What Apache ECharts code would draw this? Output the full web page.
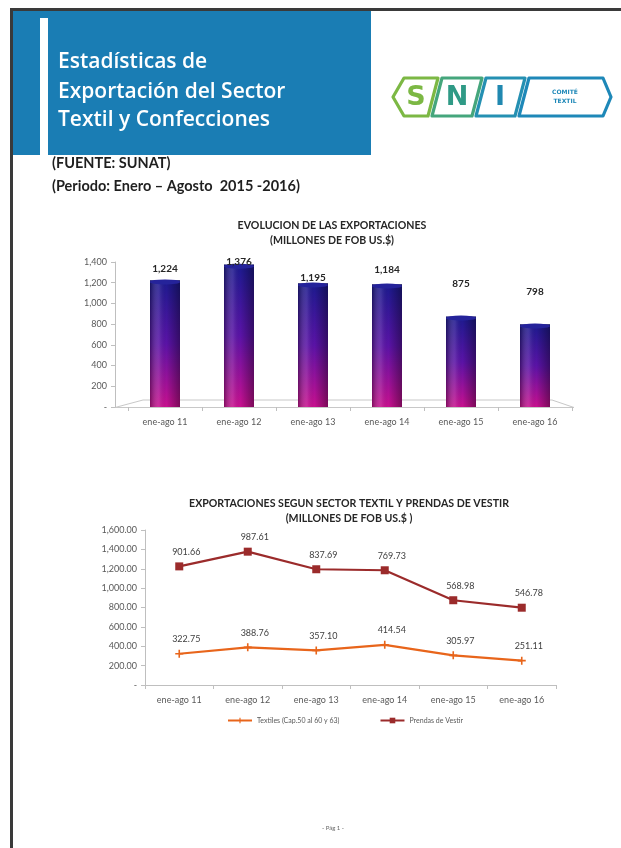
<!DOCTYPE html>
<html>
<head>
<meta charset="utf-8">
<title>Estadísticas de Exportación del Sector Textil y Confecciones</title>
<script src="https://cdn.jsdelivr.net/npm/echarts@6.0.0/dist/echarts.min.js"></script>
<style>
  html, body { margin: 0; padding: 0; background: #ffffff; }
  #page { width: 621px; height: 848px; }
</style>
</head>
<body>
<div id="page"></div>
<script>
// Categories shared by both charts
const categories = ['ene-ago 11', 'ene-ago 12', 'ene-ago 13', 'ene-ago 14', 'ene-ago 15', 'ene-ago 16'];

// Total exports (millones de FOB US$)
const totalExports = [1224, 1376, 1195, 1184, 875, 798];

// Exports by sector (millones de FOB US$)
const textiles = [322.75, 388.76, 357.10, 414.54, 305.97, 251.11];
const prendas = [901.66, 987.61, 837.69, 769.73, 568.98, 546.78];

// Legend names
const seriesNames = ['Textiles (Cap.50 al 60 y 63)', 'Prendas de Vestir'];

// Extra lift for each bar value label above its bar (px)
const barLabelLift = [2, -6, -4, 6, 24, 24];

const FONT = 'Lato, "Open Sans", sans-serif';
const AXIS_GREY = '#bfbfbf';
const TEXT_GREY = '#595959';

const fmtInt = v => v === 0 ? '-' : v.toLocaleString('en-US');
const fmtDec = v => v === 0 ? '-' : v.toLocaleString('en-US', { minimumFractionDigits: 2, maximumFractionDigits: 2 });

const chart = echarts.init(document.getElementById('page'), null, { renderer: 'canvas', width: 621, height: 848 });

// Logo cells: hexagon-like outlines with slanted separators
function logoCell(points, color) {
  return { type: 'polygon', shape: { points }, style: { fill: '#ffffff', stroke: color, lineWidth: 3.2, lineJoin: 'round' }, z: 5 };
}
function logoLetter(x, y, txt, color) {
  return { type: 'text', x, y, style: { text: txt, fill: color, font: '900 27px "DejaVu Sans", sans-serif', textAlign: 'center', textVerticalAlign: 'middle' }, z: 6 };
}

const HEAD_FONT = '600 21px "Open Sans", sans-serif';
const SUB_FONT = '700 14.5px Lato, sans-serif';

const graphics = [
  // page frame (top and left rules)
  { type: 'rect', shape: { x: 10, y: 8, width: 611, height: 3 }, style: { fill: '#3a3a3a' } },
  { type: 'rect', shape: { x: 10, y: 8, width: 3, height: 840 }, style: { fill: '#3a3a3a' } },
  // heading block
  { type: 'rect', shape: { x: 13, y: 11, width: 358, height: 144 }, style: { fill: '#1a7db4' } },
  { type: 'rect', shape: { x: 40, y: 18, width: 8, height: 137 }, style: { fill: '#ffffff' } },
  { type: 'text', x: 58, y: 62, style: { text: 'Estadísticas de', fill: '#ffffff', font: HEAD_FONT, textVerticalAlign: 'middle' } },
  { type: 'text', x: 58, y: 92, style: { text: 'Exportación del Sector', fill: '#ffffff', font: HEAD_FONT, textVerticalAlign: 'middle' } },
  { type: 'text', x: 58, y: 120, style: { text: 'Textil y Confecciones', fill: '#ffffff', font: HEAD_FONT, textVerticalAlign: 'middle' } },
  // source and period
  { type: 'text', x: 52, y: 163, style: { text: '(FUENTE: SUNAT)', fill: '#1f1f1f', font: SUB_FONT, textVerticalAlign: 'middle' } },
  { type: 'text', x: 52, y: 186, style: { text: '(Periodo: Enero – Agosto  2015 -2016)', fill: '#1f1f1f', font: SUB_FONT, textVerticalAlign: 'middle' } },
  // SNI logo
  logoCell([[393, 97], [404, 78], [438, 78], [428, 116], [404, 116]], '#7cb844'),
  logoCell([[442, 78], [482, 78], [472, 116], [432, 116]], '#45a67c'),
  logoCell([[486, 78], [525, 78], [515, 116], [476, 116]], '#2590b2'),
  logoCell([[529, 78], [603, 78], [611, 97], [603, 116], [519, 116]], '#1e88b8'),
  logoLetter(416, 98, 'S', '#7cb844'),
  logoLetter(457, 98, 'N', '#2f9a86'),
  logoLetter(500, 98, 'I', '#2088b0'),
  { type: 'text', x: 565, y: 92, style: { text: 'COMITÉ', fill: '#1e88b8', font: '700 6px "DejaVu Sans", sans-serif', textAlign: 'center', textVerticalAlign: 'middle' }, z: 6 },
  { type: 'text', x: 565, y: 101, style: { text: 'TEXTIL', fill: '#1e88b8', font: '700 6px "DejaVu Sans", sans-serif', textAlign: 'center', textVerticalAlign: 'middle' }, z: 6 },
  // bar chart floor
  { type: 'polygon', shape: { points: [[115, 407.5], [143, 400], [552, 400], [574, 407.5]] }, style: { fill: 'rgba(0,0,0,0)', stroke: '#c8c8c8', lineWidth: 1 }, z: 0 },
  // footer
  { type: 'text', x: 333, y: 828, style: { text: '- Pág 1 -', fill: '#666666', font: '6px Lato, sans-serif', textAlign: 'center', textVerticalAlign: 'middle' } }
];

const option = {
  animation: false,
  backgroundColor: '#ffffff',
  textStyle: { fontFamily: FONT },
  title: [
    {
      text: 'EVOLUCION DE LAS EXPORTACIONES\n(MILLONES DE FOB US.$)',
      left: 327, top: 213, textAlign: 'center',
      textStyle: { fontFamily: FONT, fontWeight: 'bold', fontSize: 10.6, color: '#262626', lineHeight: 15 }
    },
    {
      text: 'EXPORTACIONES SEGUN SECTOR TEXTIL Y PRENDAS DE VESTIR\n(MILLONES DE FOB US.$ )',
      left: 344, top: 491, textAlign: 'center',
      textStyle: { fontFamily: FONT, fontWeight: 'bold', fontSize: 10.6, color: '#262626', lineHeight: 15 }
    }
  ],
  legend: {
    data: seriesNames,
    left: 222, top: 712,
    itemWidth: 24, itemHeight: 7, itemGap: 40,
    textStyle: { fontFamily: FONT, fontSize: 7, color: TEXT_GREY }
  },
  grid: [
    { left: 128, top: 262, width: 444, height: 145 },
    { left: 145, top: 530, width: 411, height: 155 }
  ],
  xAxis: [
    {
      type: 'category', gridIndex: 0, data: categories,
      axisLine: { show: false },
      axisTick: { show: true, length: 4, lineStyle: { color: AXIS_GREY } },
      axisLabel: { fontFamily: FONT, fontSize: 9, color: TEXT_GREY, margin: 11 }
    },
    {
      type: 'category', gridIndex: 1, data: categories,
      axisLine: { show: true, lineStyle: { color: AXIS_GREY } },
      axisTick: { show: true, length: 4, lineStyle: { color: AXIS_GREY } },
      axisLabel: { fontFamily: FONT, fontSize: 9, color: TEXT_GREY, margin: 11 }
    }
  ],
  yAxis: [
    {
      type: 'value', gridIndex: 0, min: 0, max: 1400, interval: 200, offset: 13,
      axisLine: { show: true, lineStyle: { color: AXIS_GREY } },
      axisTick: { show: true, length: 4, lineStyle: { color: AXIS_GREY } },
      splitLine: { show: false },
      axisLabel: { fontFamily: FONT, fontSize: 9, color: TEXT_GREY, margin: 8, formatter: fmtInt }
    },
    {
      type: 'value', gridIndex: 1, min: 0, max: 1600, interval: 200,
      axisLine: { show: true, lineStyle: { color: AXIS_GREY } },
      axisTick: { show: true, length: 4, lineStyle: { color: AXIS_GREY } },
      splitLine: { show: false },
      axisLabel: { fontFamily: FONT, fontSize: 9, color: TEXT_GREY, margin: 8, formatter: fmtDec }
    }
  ],
  series: [
    {
      // cylinder body: navy to magenta
      type: 'bar', xAxisIndex: 0, yAxisIndex: 0, barWidth: 30, z: 2, silent: true,
      data: totalExports,
      itemStyle: {
        color: new echarts.graphic.LinearGradient(0, 0, 0, 1, [
          { offset: 0, color: '#1c1a8e' },
          { offset: 0.5, color: '#5a13a6' },
          { offset: 1, color: '#c8108f' }
        ])
      },
      label: { show: false }
    },
    {
      // cylinder shading across each bar
      type: 'bar', xAxisIndex: 0, yAxisIndex: 0, barWidth: 30, barGap: '-100%', z: 3, silent: true,
      data: totalExports,
      itemStyle: {
        color: new echarts.graphic.LinearGradient(0, 0, 1, 0, [
          { offset: 0, color: 'rgba(0,0,0,0.35)' },
          { offset: 0.3, color: 'rgba(255,255,255,0.12)' },
          { offset: 0.55, color: 'rgba(0,0,0,0)' },
          { offset: 1, color: 'rgba(0,0,0,0.38)' }
        ])
      },
      label: { show: false }
    },
    {
      // rounded top cap
      type: 'pictorialBar', xAxisIndex: 0, yAxisIndex: 0, z: 4, silent: true,
      symbol: 'circle', symbolSize: [30, 5], symbolPosition: 'end', symbolOffset: [0, '-20%'],
      data: totalExports,
      itemStyle: { color: '#25239a', borderColor: '#5656cc', borderWidth: 0.8 },
      label: { show: false }
    },
    {
      // value labels drawn above everything else
      type: 'bar', xAxisIndex: 0, yAxisIndex: 0, barWidth: 30, barGap: '-100%', z: 6,
      data: totalExports.map((v, i) => ({ value: v, label: { offset: [0, -barLabelLift[i]] } })),
      itemStyle: { color: 'rgba(0,0,0,0)' },
      label: {
        show: true, position: 'top', distance: 4,
        fontFamily: FONT, fontWeight: 'bold', fontSize: 10, color: '#262626',
        formatter: p => fmtInt(p.value)
      }
    },
    {
      name: seriesNames[0],
      type: 'line', xAxisIndex: 1, yAxisIndex: 1, stack: 'sector',
      data: textiles,
      color: '#e8651b',
      lineStyle: { width: 2.2, color: '#e8651b' },
      symbol: 'path://M4,0 L6,0 L6,4 L10,4 L10,6 L6,6 L6,10 L4,10 L4,6 L0,6 L0,4 L4,4 Z',
      symbolSize: 8,
      itemStyle: { color: '#e8651b' },
      label: {
        show: true, position: 'top', distance: 6, offset: [7, 0],
        fontFamily: FONT, fontSize: 9, color: '#404040',
        formatter: p => p.value.toFixed(2)
      }
    },
    {
      name: seriesNames[1],
      type: 'line', xAxisIndex: 1, yAxisIndex: 1, stack: 'sector',
      data: prendas,
      color: '#9b2b2b',
      lineStyle: { width: 2.2, color: '#9b2b2b' },
      symbol: 'rect', symbolSize: 8,
      itemStyle: { color: '#9b2b2b' },
      label: {
        show: true, position: 'top', distance: 6, offset: [7, 0],
        fontFamily: FONT, fontSize: 9, color: '#404040',
        formatter: p => p.value.toFixed(2)
      }
    }
  ],
  graphic: graphics
};

chart.setOption(option);
</script>
</body>
</html>
